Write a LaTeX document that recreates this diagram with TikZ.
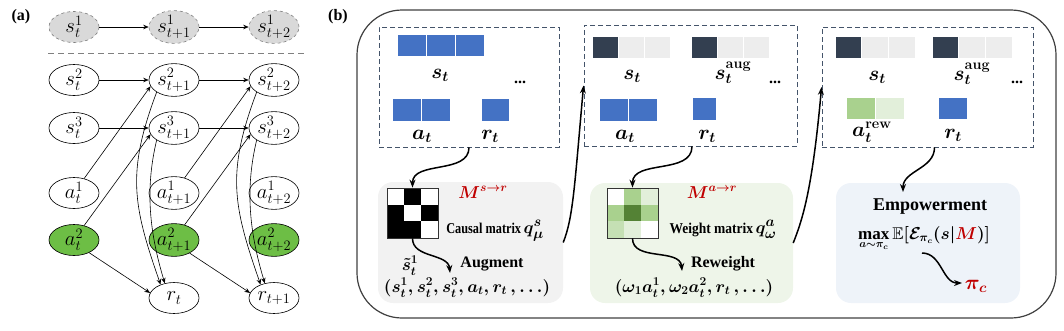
\documentclass[tikz,border=0pt]{standalone}
\usepackage{amssymb}
\usepackage{bm}
\usepackage{fontspec}
\setmainfont{Liberation Serif}
\usetikzlibrary{shapes.geometric,arrows.meta}
\definecolor{hidgray}{HTML}{D9D9D9}
\definecolor{actgreen}{HTML}{6DBE45}
\definecolor{cblue}{HTML}{4472C4}
\definecolor{cdark}{HTML}{333F50}
\definecolor{clight}{HTML}{EDEDED}
\definecolor{g1}{HTML}{A9D18E}
\definecolor{g2}{HTML}{E2EFDA}
\definecolor{g3}{HTML}{548235}
\definecolor{g4}{HTML}{C5E0B4}
\definecolor{fillA}{HTML}{F2F2F2}
\definecolor{fillB}{HTML}{EEF5E9}
\definecolor{fillC}{HTML}{EEF3F9}
\definecolor{dashblue}{HTML}{44546A}
\definecolor{cred}{HTML}{C00000}
\tikzset{
  ell/.style={ellipse, draw, line width=0.6pt, minimum width=50pt, minimum height=31pt, inner sep=0pt, font=\fontsize{22}{22}\selectfont},
  hid/.style={ell, dashed, fill=hidgray, draw=gray},
  grn/.style={ell, fill=actgreen},
  arr/.style={-{Stealth[length=5.5pt,width=4.5pt]}, line width=0.6pt},
  flow/.style={-{Stealth[length=8pt,width=6pt]}, line width=1.5pt},
  dbox/.style={rectangle, draw=dashblue, dash pattern=on 5pt off 3pt, line width=0.9pt, inner sep=0pt},
  sbox/.style={rectangle, rounded corners=15pt, inner sep=0pt},
  lab/.style={font=\fontsize{20}{20}\selectfont\boldmath, inner sep=0pt, anchor=base},
  dots/.style={font=\fontsize{16}{18}\selectfont\bfseries, inner sep=0pt, anchor=base},
  cell/.style={draw=white, line width=0.8pt},
  tl/.style={inner sep=0pt, anchor=base},
}
\begin{document}
\begin{tikzpicture}[x=1pt,y=1pt]
\useasboundingbox (0,0) rectangle (1064,-330);
% ---------------- (a) ----------------
\node[font=\fontsize{16}{18}\selectfont\bfseries, inner sep=0pt] (la) at (21,-17) {(a)};
\node[hid] (s11) at (74,-27) {$s_t^1$};
\node[hid] (s12) at (174,-27) {$s_{t+1}^1$};
\node[hid] (s13) at (274,-27) {$s_{t+2}^1$};
\draw[gray, line width=0.8pt, dash pattern=on 6pt off 4pt] (48,-53) -- (305,-53);
\node[ell] (s21) at (74,-80) {$s_t^2$};
\node[ell] (s22) at (174,-80) {$s_{t+1}^2$};
\node[ell] (s23) at (274,-80) {$s_{t+2}^2$};
\node[ell] (s31) at (74,-128) {$s_t^3$};
\node[ell] (s32) at (174,-128) {$s_{t+1}^3$};
\node[ell] (s33) at (274,-128) {$s_{t+2}^3$};
\node[ell] (a11) at (74,-193) {$a_t^1$};
\node[ell] (a12) at (174,-193) {$a_{t+1}^1$};
\node[ell] (a13) at (274,-193) {$a_{t+2}^1$};
\node[grn] (a21) at (74,-240) {$a_t^2$};
\node[grn] (a22) at (174,-240) {$a_{t+1}^2$};
\node[grn] (a23) at (274,-240) {$a_{t+2}^2$};
\node[ell] (r1) at (174,-298) {$r_t$};
\node[ell] (r2) at (274,-298) {$r_{t+1}$};
\draw[arr] (s11) -- (s12);
\draw[arr] (s12) -- (s13);
\draw[arr] (s21) -- (s22);
\draw[arr] (s22) -- (s23);
\draw[arr] (s31) -- (s32);
\draw[arr] (s32) -- (s33);
\draw[arr] (a11.55) -- (s22.195);
\draw[arr] (a21.55) -- (s32.195);
\draw[arr] (a21.-40) -- (r1.168);
\draw[arr] (s22.215) .. controls +(-30,-80) and +(-28,80) .. (r1.135);
\draw[arr] (s32.215) .. controls +(-12,-50) and +(-15,50) .. (r1.122);
\draw[arr] (a12.55) -- (s23.195);
\draw[arr] (a22.55) -- (s33.195);
\draw[arr] (a22.-40) -- (r2.168);
\draw[arr] (s23.215) .. controls +(-30,-80) and +(-28,80) .. (r2.135);
\draw[arr] (s33.215) .. controls +(-12,-50) and +(-15,50) .. (r2.122);
% ---------------- (b) ----------------
\node[font=\fontsize{16}{18}\selectfont\bfseries, inner sep=0pt] (lb) at (338,-17) {(b)};
\draw[line width=1.2pt, draw=black!75, rounded corners=45pt] (357,-10) rectangle (1056,-318);
% dashed boxes
\node[dbox, minimum width=180pt, minimum height=120pt] (b1) at (469,-87) {};
\node[dbox, minimum width=213pt, minimum height=121pt] (b2) at (690.5,-85.5) {};
\node[dbox, minimum width=211pt, minimum height=120pt] (b3) at (927.5,-87) {};
% box 1 content
\filldraw[cell, fill=cblue] (397,-34) rectangle (426,-56);
\filldraw[cell, fill=cblue] (426,-34) rectangle (455,-56);
\filldraw[cell, fill=cblue] (455,-34) rectangle (484,-56);
\filldraw[cell, fill=cblue] (392,-98) rectangle (421,-121);
\filldraw[cell, fill=cblue] (421,-98) rectangle (450,-121);
\filldraw[cell, fill=cblue] (481,-98) rectangle (509,-121);
\node[lab] (t1s) at (440,-78) {$s_t$};
\node[dots] (t1d) at (520,-83) {...};
\node[lab] (t1a) at (422,-139) {$a_t$};
\node[lab] (t1r) at (490,-139) {$r_t$};
% box 2 content
\filldraw[cell, fill=cdark] (592,-36) rectangle (618,-58);
\filldraw[cell, fill=clight] (618,-36) rectangle (644,-58);
\filldraw[cell, fill=clight] (644,-36) rectangle (670,-58);
\filldraw[cell, fill=cdark] (691,-36) rectangle (717,-58);
\filldraw[cell, fill=clight] (717,-36) rectangle (743,-58);
\filldraw[cell, fill=clight] (743,-36) rectangle (769,-58);
\filldraw[cell, fill=cblue] (599,-98) rectangle (628,-121);
\filldraw[cell, fill=cblue] (628,-98) rectangle (657,-121);
\filldraw[cell, fill=cblue] (692,-97) rectangle (716,-120);
\node[lab] (t2s) at (632,-79) {$s_t$};
\node[lab] (t2g) at (733,-79) {$s_t^{\mathbf{aug}}$};
\node[dots] (t2d) at (775,-83) {...};
\node[lab] (t2a) at (625,-139) {$a_t$};
\node[lab] (t2r) at (707,-139) {$r_t$};
% box 3 content
\filldraw[cell, fill=cdark] (835,-36) rectangle (861.7,-58);
\filldraw[cell, fill=clight] (861.7,-36) rectangle (888.3,-58);
\filldraw[cell, fill=clight] (888.3,-36) rectangle (915,-58);
\filldraw[cell, fill=cdark] (932,-36) rectangle (958.7,-58);
\filldraw[cell, fill=clight] (958.7,-36) rectangle (985.3,-58);
\filldraw[cell, fill=clight] (985.3,-36) rectangle (1012,-58);
\filldraw[cell, fill=g1] (846,-97) rectangle (875,-119);
\filldraw[cell, fill=g2] (875,-97) rectangle (904,-119);
\filldraw[cell, fill=cblue] (938,-97) rectangle (967,-119);
\node[lab] (t3s) at (877,-80) {$s_t$};
\node[lab] (t3g) at (972,-80) {$s_t^{\mathbf{aug}}$};
\node[dots] (t3d) at (1017,-83) {...};
\node[lab] (t3a) at (872,-136) {$a_t^{\mathbf{rew}}$};
\node[lab] (t3r) at (953,-138) {$r_t$};
% bottom boxes
\node[sbox, fill=fillA, minimum width=185pt, minimum height=121pt] (bA) at (470.5,-242.5) {};
\node[sbox, fill=fillB, minimum width=203pt, minimum height=120pt] (bB) at (691.5,-243) {};
\node[sbox, fill=fillC, minimum width=184pt, minimum height=120pt] (bC) at (928,-243) {};
% causal matrix
\fill[white] (387,-188) rectangle (438,-238);
\fill[black] (404,-188) rectangle (421,-204.7);
\fill[black] (387,-204.7) rectangle (404,-221.3);
\fill[black] (421,-204.7) rectangle (438,-221.3);
\fill[black] (387,-221.3) rectangle (421,-238);
\node[rectangle, draw=black!80, line width=0.8pt, minimum width=51pt, minimum height=50pt, inner sep=0pt] (mA) at (412.5,-213) {};
% weight matrix
\fill[white] (607,-188) rectangle (624,-204.7);
\fill[g1] (624,-188) rectangle (641,-204.7);
\fill[g2] (641,-188) rectangle (658,-204.7);
\fill[g1] (607,-204.7) rectangle (624,-221.3);
\fill[g3] (624,-204.7) rectangle (641,-221.3);
\fill[g1] (641,-204.7) rectangle (658,-221.3);
\fill[g4] (607,-221.3) rectangle (624,-238);
\fill[g2] (624,-221.3) rectangle (641,-238);
\fill[white] (641,-221.3) rectangle (658,-238);
\node[rectangle, draw=black!80, line width=0.8pt, minimum width=51pt, minimum height=50pt, inner sep=0pt] (mB) at (632.5,-213) {};
% box A texts
\node[tl, text=cred, font=\fontsize{17}{18}\selectfont\boldmath] (MA) at (483,-198) {$M^{s\rightarrow r}$};
\node[tl, font=\fontsize{15}{16}\selectfont\bfseries] (cm) at (495,-233) {\scalebox{0.82}[1]{Causal matrix}\,{\fontsize{19}{19}\selectfont\boldmath$q^s_\mu$}};
\node[tl, font=\fontsize{16}{18}\selectfont\bfseries] (aug) at (492,-267) {Augment};
\node[tl, font=\fontsize{18}{18}\selectfont\boldmath] (st1) at (410,-270) {$\tilde{s}_t^1$};
\node[tl, font=\fontsize{17}{18}\selectfont\boldmath] (tupA) at (467,-292) {$(s_t^1, s_t^2, s_t^3, a_t, r_t\,, \ldots)$};
\coordinate (augt) at (450,-273);
% box B texts
\node[tl, text=cred, font=\fontsize{17}{18}\selectfont\boldmath] (MB) at (712,-198) {$M^{a\rightarrow r}$};
\node[tl, font=\fontsize{15}{16}\selectfont\bfseries] (wm) at (723,-233) {\scalebox{0.9}[1]{Weight matrix}\,{\fontsize{19}{19}\selectfont\boldmath$q^a_\omega$}};
\node[tl, font=\fontsize{16}{18}\selectfont\bfseries] (rew) at (723,-267) {Reweight};
\node[tl, font=\fontsize{17}{18}\selectfont\boldmath] (tupB) at (694,-292) {$(\omega_1 a_t^1, \omega_2 a_t^2, r_t\,, \ldots)$};
\coordinate (rewt) at (682,-271);
% box C texts
\node[tl, font=\fontsize{18}{20}\selectfont\bfseries] (emp) at (930,-210) {Empowerment};
\node[inner sep=0pt, anchor=base west, font=\fontsize{17}{18}\selectfont\boldmath] (mx1) at (858,-239) {$\max$};
\node[inner sep=0pt, anchor=north, font=\fontsize{11}{11}\selectfont\boldmath] (mx2) at ([yshift=-3pt]mx1.south) {$a{\sim}\pi_c$};
\node[inner sep=0pt, anchor=base west, font=\fontsize{17}{18}\selectfont\boldmath] (mx3) at ([xshift=2.5pt]mx1.base east) {$\mathbb{E}[\mathcal{E}_{\pi_c}(s|{\color{cred}M})]$};
\node[tl, text=cred, font=\fontsize{22}{22}\selectfont\boldmath] (pic) at (976,-289) {$\pi_c$};
\coordinate (empS) at (922,-253);
\coordinate (empT) at (962,-283);
\coordinate (cTop) at (903,-192);
% flow arrows
\draw[flow] (b1.south) to[out=-90,in=90] (mA.north);
\draw[flow] (bA.east) .. controls +(10,25) and +(-9,-100) .. (b2.west);
\draw[flow] ([xshift=1.5pt]b2.south) to[out=-90,in=90] (mB.north);
\draw[flow] (bB.east) .. controls +(10,25) and +(-9,-100) .. (b3.west);
\draw[flow] ([xshift=7pt]b3.south) to[out=-90,in=90] (cTop);
\draw[flow] (mA.south) to[out=-90,in=95] (augt);
\draw[flow] (mB.south) to[out=-90,in=95] (rewt);
\draw[flow] (empS) to[out=0,in=180] (empT);
\end{tikzpicture}
\end{document}
